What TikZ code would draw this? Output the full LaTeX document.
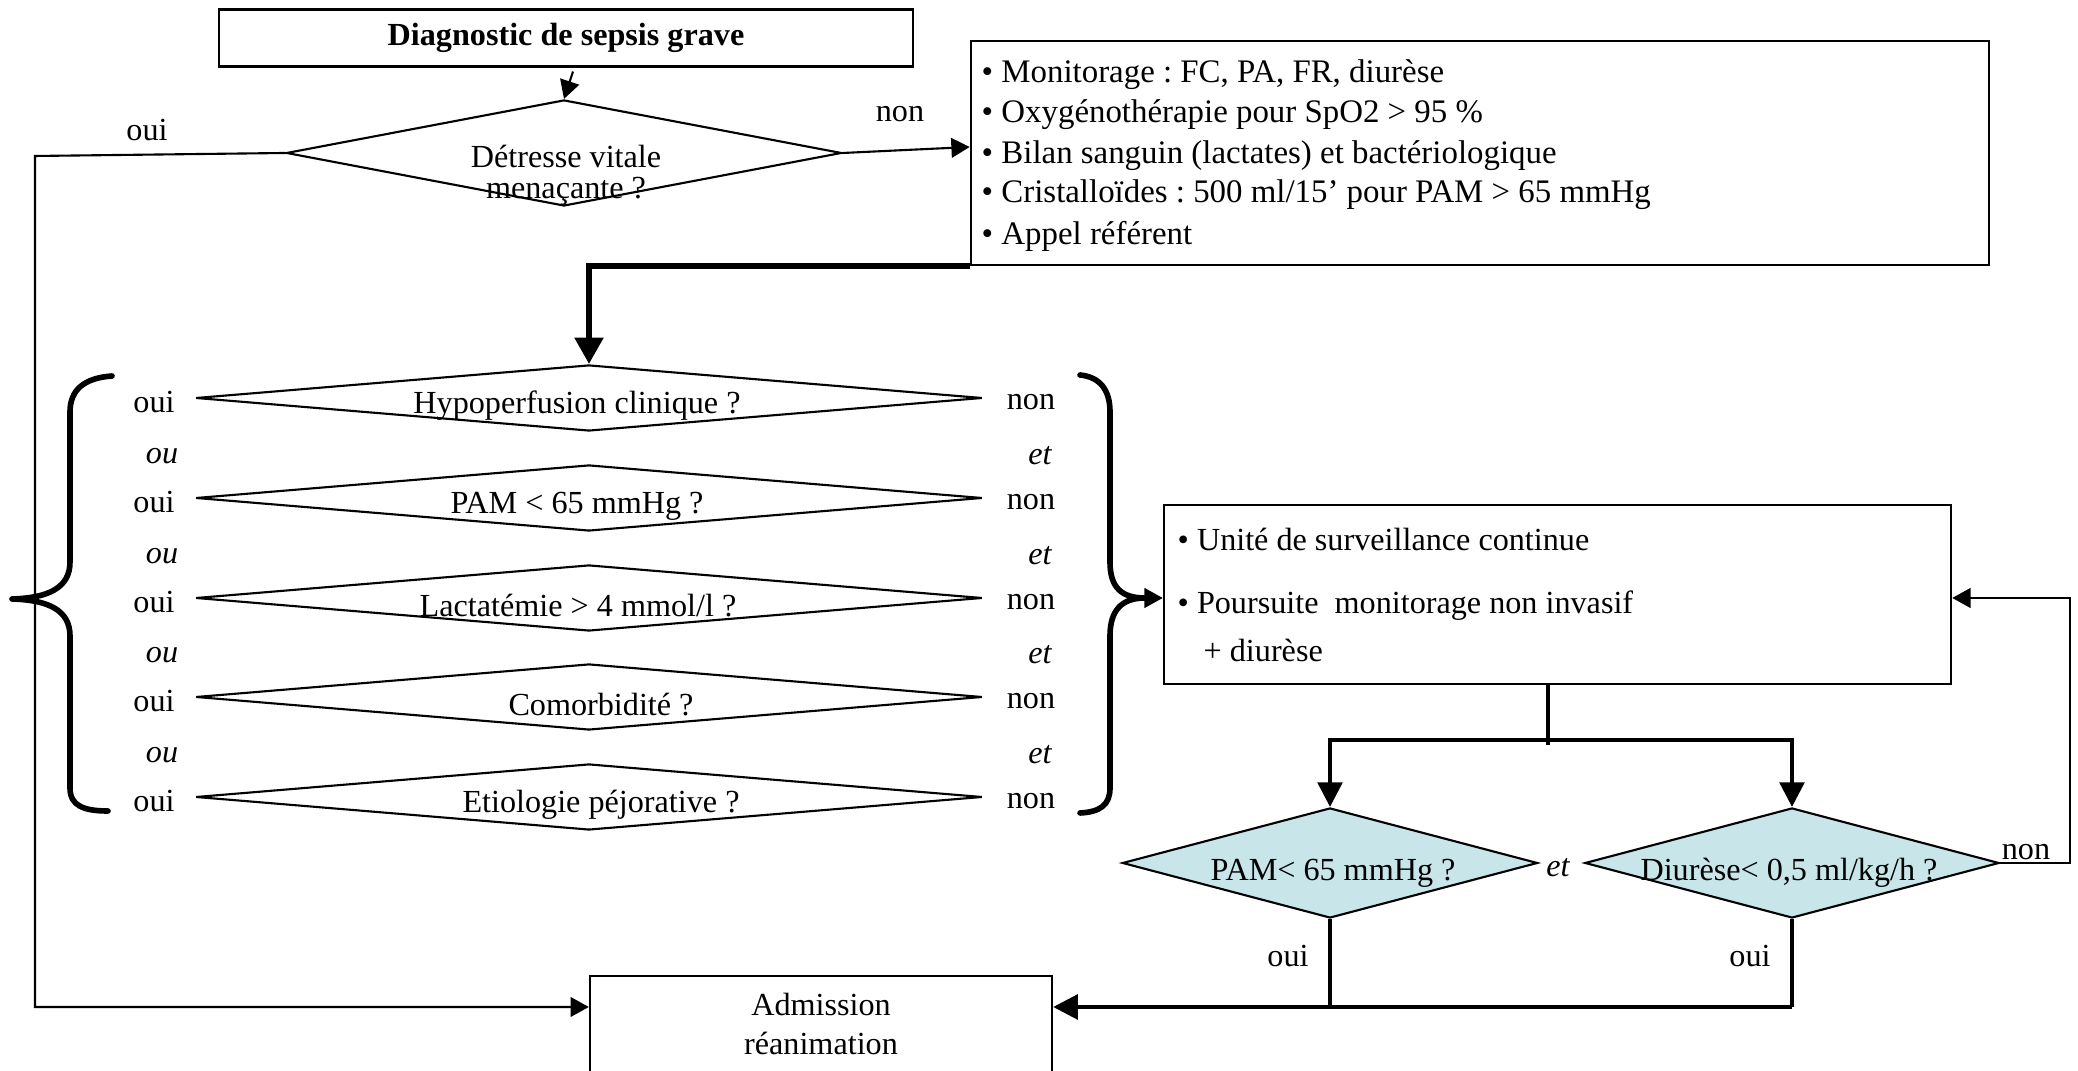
\documentclass[tikz,border=0pt]{standalone}
\usepackage{fontspec}
\setmainfont{Liberation Serif}
\usetikzlibrary{shapes.geometric,arrows.meta}
\definecolor{qfill}{RGB}{200,230,234}
\newcommand{\dfsize}{\fontsize{9.15pt}{10.9pt}\selectfont\frenchspacing}
\newcommand{\monsize}{\fontsize{9.35pt}{11pt}\selectfont\frenchspacing}
\begin{document}
\begin{tikzpicture}[x=0.01cm,y=-0.01cm,
  every node/.style={font=\dfsize, inner sep=0pt},
  box/.style={draw, line width=0.6pt, rectangle},
  quest/.style={draw, line width=0.6pt, shape=diamond, inner sep=0pt},
  lbl/.style={font=\dfsize},
  conj/.style={font=\dfsize\itshape},
  monline/.style={anchor=base west, font=\monsize},
  arrS/.style={line width=0.6pt, -{Triangle[length=5.2pt,width=5.6pt]}},
  arrM/.style={line width=1.1pt, -{Triangle[length=7pt,width=7pt]}},
  arrL/.style={line width=1.5pt, -{Triangle[length=7.5pt,width=8pt]}},
  brace/.style={line width=1.6pt, line cap=round, line join=round},
  midline/.style={line width=1.1pt}]

\useasboundingbox (0,0) rectangle (2078,1071);
\clip (0,0) rectangle (2078,1071);

% ---- top: diagnosis and first question
\node[box, minimum width=6.94cm, minimum height=0.57cm, font=\dfsize\bfseries] (diag) at (566,38) {Diagnostic de sepsis grave};
\node[quest, minimum width=5.55cm, minimum height=1.06cm] (detr) at (564,153) {};
\node[align=center] (detrt) at (566,175) {Détresse vitale\\[-2pt]menaçante ?};
\draw[arrS] ([shift={(7,4)}]diag.south) -- (detr.north);

\node[lbl] (oui0) at (147,130) {oui};
\node[lbl] (non0) at (900,114) {non};

% ---- first-line measures
\node[box, minimum width=10.18cm, minimum height=2.24cm] (mon) at (1480,153) {};
\node[monline] (m1) at (981,83)  {• Monitorage : FC, PA, FR, diurèse};
\node[monline] (m2) at (981,123) {• Oxygénothérapie pour SpO2 > 95 \%};
\node[monline] (m3) at (981,164) {• Bilan sanguin (lactates) et bactériologique};
\node[monline] (m4) at (981,203) {• Cristalloïdes : 500 ml/15’ pour PAM > 65 mmHg};
\node[monline] (m5) at (981,245) {• Appel référent};
\draw[arrS] (detr.east) -- ([shift={(0,-6)}]mon.west);

% ---- severity criteria
\node[quest, minimum width=7.86cm, minimum height=0.66cm] (c1) at (589,398) {};
\node[quest, minimum width=7.86cm, minimum height=0.66cm] (c2) at (589,498) {};
\node[quest, minimum width=7.86cm, minimum height=0.66cm] (c3) at (589,598) {};
\node[quest, minimum width=7.86cm, minimum height=0.66cm] (c4) at (589,697) {};
\node[quest, minimum width=7.86cm, minimum height=0.66cm] (c5) at (589,797) {};
\node (ct1) at (577,406) {Hypoperfusion clinique ?};
\node (ct2) at (577,506) {PAM < 65 mmHg ?};
\node (ct3) at (578,606) {Lactatémie > 4 mmol/l ?};
\node (ct4) at (601,705) {Comorbidité ?};
\node (ct5) at (601,805) {Etiologie péjorative ?};

\foreach \yy [count=\k] in {398,498,598,697,797}{
  \node[lbl] (oui\k) at (154,\yy+4) {oui};
  \node[lbl] (non\k) at (1031,\yy+4) {non};
}
\foreach \yy [count=\k] in {456,556,655,755}{
  \node[conj] (ou\k) at (162,\yy) {ou};
  \node[conj] (et\k) at (1040,\yy) {et};
}

\draw[arrL] (mon.south west) -| (c1.north);

% braces gathering the criteria
\draw[brace] (112,376) .. controls (84,378) and (70,390) .. (70,412) -- (70,562)
  .. controls (70,588) and (48,598) .. (12,599)
  .. controls (48,600) and (70,610) .. (70,636) -- (70,788)
  .. controls (70,806) and (84,811) .. (108,811);
\draw[brace] (1080,375) .. controls (1100,377) and (1110,390) .. (1110,412) -- (1110,562)
  .. controls (1110,588) and (1122,598) .. (1145,598)
  .. controls (1122,598) and (1110,610) .. (1110,636) -- (1110,788)
  .. controls (1110,805) and (1100,812) .. (1080,813);
\coordinate (rbt) at (1145,598);

% ---- continuous monitoring unit
\node[box, minimum width=7.87cm, minimum height=1.79cm] (unite) at (1557.5,594.5) {};
\node[anchor=base west] (u1) at (1177,551) {• Unité de surveillance continue};
\node[anchor=base west] (u2) at (1177,614) {• Poursuite\ \ monitorage non invasif};
\node[anchor=base west] (u3) at (1203,662) {+ diurèse};
\draw[arrS] (rbt) -- (rbt -| unite.west);

% ---- re-evaluation
\node[quest, fill=qfill, minimum width=4.15cm, minimum height=1.10cm] (p1) at (1330,863) {};
\node[quest, fill=qfill, minimum width=4.14cm, minimum height=1.10cm] (p2) at (1792,863) {};
\node (pt1) at (1333,873) {PAM< 65 mmHg ?};
\node (pt2) at (1789,873) {Diurèse< 0,5 ml/kg/h ?};
\node[conj] (et5) at (1558,868) {et};
\node[lbl] (non6) at (2026,852) {non};

\coordinate (sp) at (1548,740);
\draw[midline] (unite.south -| sp) -- ([shift={(0,5)}]sp);
\draw[arrM] (sp) -| (p1.north);
\draw[arrM] (sp) -| (p2.north);

\coordinate (lp) at (2070,598);
\draw[arrS] (p2.east) -| (lp) -- (lp -| unite.east);

% ---- admission
\node[box, minimum width=4.62cm, minimum height=0.96cm, align=center, anchor=north] (adm) at (821,975) {Admission\\[0.4pt]réanimation};

\coordinate (bj1) at (1330,1007);
\coordinate (bj2) at (1792,1007);
\draw[midline] (p1.south) -- (bj1);
\draw[midline] (p2.south) -- (bj2);
\draw[arrM] (bj2) -- (bj2 -| adm.east);
\node[lbl] (oui6) at (1288,956) {oui};
\node[lbl] (oui7) at (1750,956) {oui};

\coordinate (lc1) at (35,156);
\coordinate (lc2) at (35,1007);
\draw[arrS] (detr.west) -- (lc1) -- (lc2) -- (lc2 -| adm.west);
\end{tikzpicture}
\end{document}
